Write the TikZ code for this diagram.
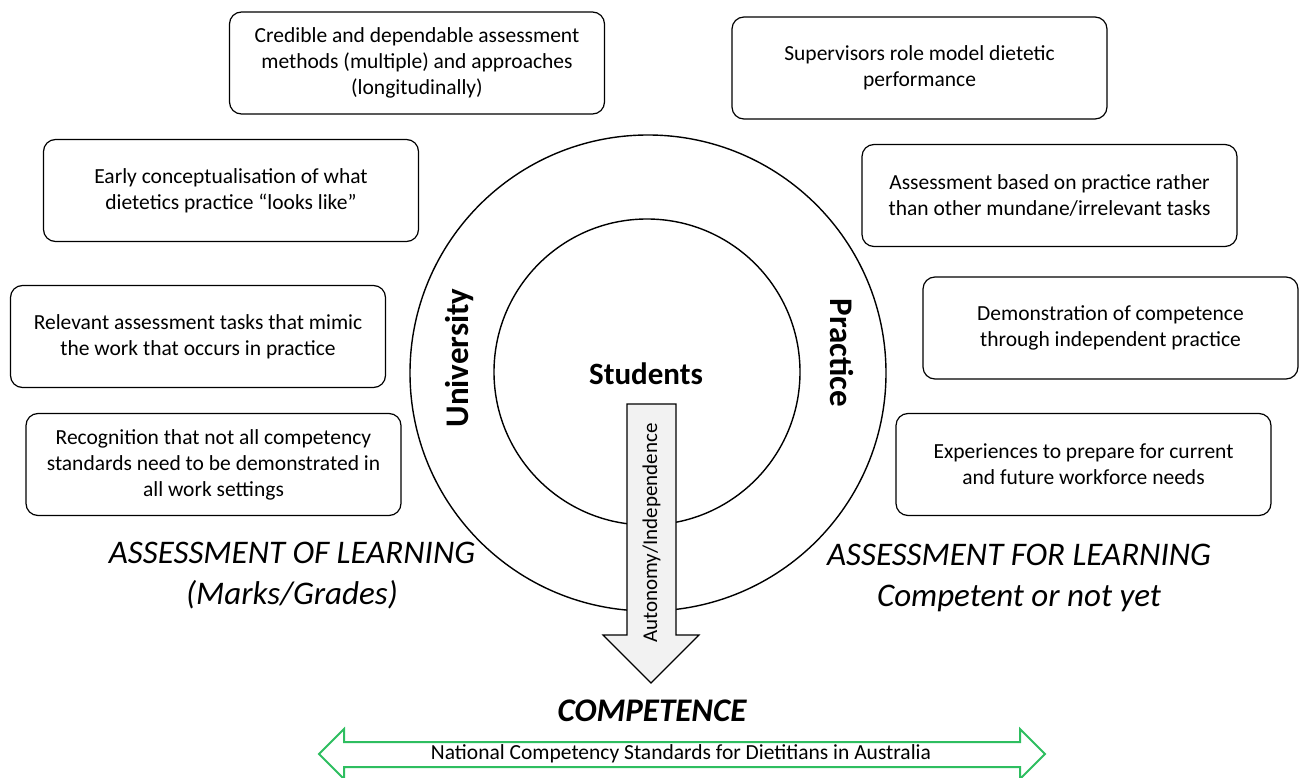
\documentclass[tikz,border=0pt]{standalone}
\usepackage{fontspec}
\setmainfont{Carlito}
\definecolor{natgreen}{RGB}{46,190,96}
\definecolor{arrowfill}{RGB}{242,242,242}
\begin{document}
\begin{tikzpicture}[x=1pt,y=-1pt,
  box/.style={draw, rounded corners=12pt, line width=1.2pt, align=center,
    font=\fontsize{21.5}{26}\selectfont, minimum width=375pt, minimum height=102pt, inner sep=0pt},
  ring/.style={draw, circle, line width=1.4pt, inner sep=0pt},
  biglab/.style={font=\fontsize{33}{41}\selectfont\itshape, align=center},
  sidelab/.style={font=\fontsize{33}{35}\selectfont\bfseries}]
\useasboundingbox (0,0) rectangle (1302,778);

% circles
\node[ring, minimum size=476pt] (outer) at (648,373) {};
\node[ring, minimum size=306pt] (inner) at (647,372) {};
\node[font=\fontsize{31}{34}\selectfont\bfseries] (students) at (646,374) {Students};
\node[sidelab, rotate=90] (univ) at (460,358) {University};
\node[sidelab, rotate=-90] (prac) at (842,353) {Practice};

% boxes
\node[box] (b1) at (417,63) {Credible and dependable assessment\\methods (multiple) and approaches\\(longitudinally)};
\node[box] (b2) at (231,190.5) {Early conceptualisation of what\\dietetics practice “looks like”};
\node[box] (b3) at (198,336.5) {Relevant assessment tasks that mimic\\the work that occurs in practice};
\node[box] (b4) at (213.5,464.5) {Recognition that not all competency\\standards need to be demonstrated in\\all work settings};
\node[box] (b5) at (919.5,68) {Supervisors role model dietetic\\performance};
\node[box] (b6) at (1049.5,195.5) {Assessment based on practice rather\\than other mundane/irrelevant tasks};
\node[box] (b7) at (1110.5,328) {Demonstration of competence\\through independent practice};
\node[box] (b8) at (1083.5,464.5) {Experiences to prepare for current\\and future workforce needs};

% autonomy arrow
\draw[line width=1.2pt, fill=arrowfill] (627,404) -- (676,404) -- (676,635) -- (699,635) -- (651,683) -- (603,635) -- (627,635) -- cycle;
\node[rotate=90, font=\fontsize{21}{23}\selectfont] (auto) at (651.5,533) {Autonomy/Independence};

% assessment labels
\node[biglab] (aol) at (292,576) {ASSESSMENT OF LEARNING\\(Marks/Grades)};
\node[biglab] (afl) at (1019,578) {ASSESSMENT FOR LEARNING\\Competent or not yet};

\node[font=\fontsize{33}{35}\selectfont\bfseries\itshape] (comp) at (652,711) {COMPETENCE};

% national standards arrow
\draw[natgreen, line width=2pt, fill=white] (319,754) -- (344,729) -- (344,742) -- (1020,742) -- (1020,729) -- (1045,754) -- (1020,779) -- (1020,767) -- (344,767) -- (344,779) -- cycle;
\node[font=\fontsize{21.5}{23}\selectfont] (nat) at (681,754) {National Competency Standards for Dietitians in Australia};
\end{tikzpicture}
\end{document}
